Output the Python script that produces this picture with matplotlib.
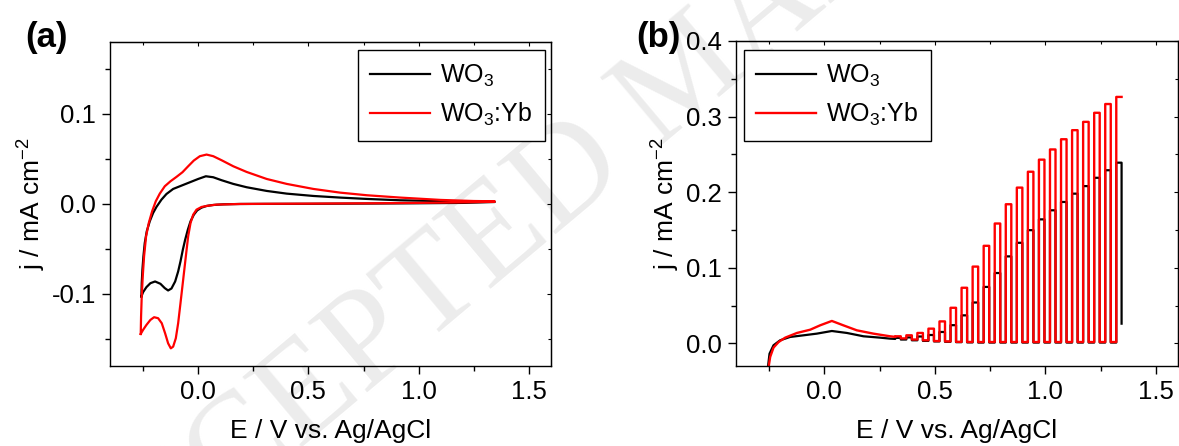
import matplotlib
matplotlib.use('Agg')
import matplotlib.pyplot as plt
from matplotlib.ticker import MultipleLocator, FormatStrFormatter

plt.rcParams['font.family'] = ['Liberation Sans', 'DejaVu Sans']
plt.rcParams['mathtext.fontset'] = 'custom'
plt.rcParams['mathtext.rm'] = 'Liberation Sans'
plt.rcParams['mathtext.it'] = 'Liberation Sans:italic'
plt.rcParams['axes.unicode_minus'] = False

# ---- (a) cyclic voltammograms, forward and reverse branches ----
E_wo3_fwd = [-0.2576, -0.2561, -0.2530, -0.2485, -0.2424, -0.2333, -0.2197, -0.2045, -0.1894, -0.1667,
             -0.1439, -0.1136, -0.0758, -0.0379, 0.0, 0.0348, 0.0682, 0.1061, 0.1591, 0.2197,
             0.3106, 0.4015, 0.5227, 0.6439, 0.7652, 0.9167, 1.10, 1.25, 1.345]
j_wo3_fwd = [-0.1028, -0.0880, -0.0731, -0.0583, -0.0434, -0.0304, -0.0193, -0.0100, -0.0033, 0.0048,
             0.0111, 0.0167, 0.0204, 0.0241, 0.0278, 0.0308, 0.0297, 0.0264, 0.0223, 0.0186,
             0.0145, 0.0115, 0.0089, 0.0071, 0.0056, 0.0041, 0.0032, 0.0027, 0.0025]
E_wo3_rev = [1.345, 1.2, 1.0, 0.8, 0.5, 0.3, 0.189, 0.114, 0.068, 0.038, 0.015, -0.0045, -0.0197,
             -0.0348, -0.047, -0.0591, -0.0697, -0.0803, -0.0909, -0.1045, -0.1212, -0.1364, -0.1515,
             -0.1712, -0.1955, -0.2167, -0.2348, -0.25, -0.2576]
j_wo3_rev = [0.0022, 0.0012, 0.0008, 0.0005, 0.0002, 0.0001, 0.0, -0.0004, -0.0011, -0.0022, -0.0041,
             -0.0071, -0.0119, -0.0193, -0.0286, -0.0397, -0.0509, -0.0638, -0.0750, -0.0861, -0.0939,
             -0.0961, -0.0935, -0.0887, -0.0861, -0.0880, -0.0924, -0.0980, -0.1028]

E_yb_fwd = [-0.2606, -0.2591, -0.2561, -0.2515, -0.2455, -0.2364, -0.2242, -0.2091, -0.1924, -0.1742,
            -0.1515, -0.1258, -0.0985, -0.0712, -0.0455, -0.0197, 0.0076, 0.0379, 0.0682, 0.1061,
            0.1591, 0.2197, 0.3106, 0.4015, 0.5227, 0.6439, 0.7652, 0.9167, 1.10, 1.25, 1.345]
j_yb_fwd = [-0.1444, -0.1251, -0.1028, -0.0805, -0.0583, -0.0360, -0.0212, -0.0082, 0.0030, 0.0115,
            0.0197, 0.0252, 0.0301, 0.0353, 0.0419, 0.0483, 0.0531, 0.0549, 0.0531, 0.0486,
            0.0419, 0.0356, 0.0278, 0.0223, 0.0167, 0.0126, 0.0097, 0.0071, 0.0045, 0.0033, 0.0030]
E_yb_rev = [1.345, 1.2, 1.0, 0.8, 0.5, 0.3, 0.189, 0.1288, 0.0833, 0.0455, 0.0152, -0.0076, -0.0227,
            -0.0348, -0.0455, -0.0561, -0.0682, -0.0803, -0.0909, -0.1015, -0.1136, -0.1242, -0.1364,
            -0.1500, -0.1652, -0.1818, -0.2000, -0.2167, -0.2348, -0.25, -0.2606]
j_yb_rev = [0.0025, 0.0018, 0.0012, 0.0008, 0.0004, 0.0002, 0.0, -0.0004, -0.0007, -0.0019, -0.0033,
            -0.0063, -0.0119, -0.0212, -0.0360, -0.0583, -0.0843, -0.1102, -0.1325, -0.1492, -0.1585,
            -0.1604, -0.1548, -0.1437, -0.1325, -0.1269, -0.1258, -0.1288, -0.1344, -0.1399, -0.1444]

# ---- (b) LSV under chopped light ----
# continuous part before chopping becomes visible
E_b_wo3 = [-0.255, -0.248, -0.23, -0.2, -0.155, -0.094, -0.034, 0.034, 0.102, 0.177, 0.252, 0.297]
j_b_wo3 = [-0.031, -0.0137, -0.0026, 0.004, 0.0084, 0.0106, 0.0128, 0.0163, 0.0137, 0.0093, 0.0075, 0.0062]
E_b_yb = [-0.252, -0.245, -0.23, -0.207, -0.177, -0.124, -0.064, -0.019, 0.034, 0.086, 0.147, 0.222, 0.297]
j_b_yb = [-0.031, -0.018, -0.0057, 0.0017, 0.0075, 0.0137, 0.018, 0.0238, 0.0296, 0.0238, 0.0172, 0.0128, 0.0093]

# light on / off potentials
E_on = [0.321, 0.371, 0.421, 0.471, 0.521, 0.571, 0.621, 0.671, 0.721, 0.771, 0.821,
        0.871, 0.921, 0.971, 1.021, 1.071, 1.121, 1.171, 1.221, 1.271, 1.321]
E_off = [0.346, 0.396, 0.446, 0.496, 0.546, 0.596, 0.646, 0.696, 0.746, 0.796, 0.846,
         0.896, 0.946, 0.996, 1.046, 1.096, 1.146, 1.196, 1.246, 1.296, 1.345]
# photocurrent (light on) and dark current before each pulse
top_yb = [0.0093, 0.0106, 0.0137, 0.0194, 0.029, 0.047, 0.0735, 0.1015, 0.129, 0.1585, 0.184,
          0.206, 0.227, 0.243, 0.2565, 0.270, 0.282, 0.293, 0.305, 0.3166, 0.326]
dark_yb = [0.0085, 0.0065, 0.005, 0.004, 0.003, 0.0025, 0.002, 0.0018, 0.0017, 0.0017, 0.0017,
           0.0017, 0.0017, 0.0017, 0.0017, 0.0017, 0.0017, 0.0017, 0.0017, 0.0017, 0.0017]
top_wo3 = [0.0072, 0.0078, 0.009, 0.011, 0.015, 0.024, 0.037, 0.054, 0.0746, 0.093, 0.115,
           0.133, 0.1497, 0.164, 0.176, 0.187, 0.198, 0.208, 0.219, 0.229, 0.239]
dark_wo3 = [0.0058, 0.005, 0.004, 0.0032, 0.0025, 0.002, 0.0015, 0.0012, 0.001, 0.001, 0.001,
            0.001, 0.001, 0.001, 0.001, 0.001, 0.001, 0.001, 0.001, 0.001, 0.001]
end_wo3 = 0.026   # black trace ends halfway down the last fall


def chopped(E0, j0, top, dark, last_fall=None):
    xs, ys = list(E0), list(j0)
    for k in range(len(E_on)):
        xs += [E_on[k], E_on[k], E_off[k]]
        ys += [dark[k], top[k], top[k]]
        if k < len(E_on) - 1:
            xs += [E_off[k]]
            ys += [dark[k + 1]]
    if last_fall is not None:
        xs.append(E_off[-1])
        ys.append(last_fall)
    return xs, ys


fig = plt.figure(figsize=(11.79, 4.46), dpi=100)
ax1 = fig.add_axes([0.0933, 0.1794, 0.374, 0.7265])
ax2 = fig.add_axes([0.6242, 0.1794, 0.3749, 0.7287])

# faint watermark behind everything
fig.text(0.068, -0.42, 'ACCEPTED MANUSCRIPT', family='Liberation Serif', fontsize=100,
         color='#ececec', rotation=40, rotation_mode='anchor', ha='left', va='baseline', zorder=-10)

ax1.plot(E_wo3_fwd + E_wo3_rev, j_wo3_fwd + j_wo3_rev, color='black', lw=1.6, label='WO$_3$')
ax1.plot(E_yb_fwd + E_yb_rev, j_yb_fwd + j_yb_rev, color='red', lw=1.6, label='WO$_3$:Yb')
ax1.set_xlim(-0.4, 1.6)
ax1.set_ylim(-0.18, 0.18)

xb, yb = chopped(E_b_wo3, j_b_wo3, top_wo3, dark_wo3, last_fall=end_wo3)
ax2.plot(xb, yb, color='black', lw=1.6, label='WO$_3$')
xr, yr = chopped(E_b_yb, j_b_yb, top_yb, dark_yb)
ax2.plot(xr, yr, color='red', lw=1.7, label='WO$_3$:Yb')
ax2.set_xlim(-0.4, 1.6)
ax2.set_ylim(-0.03, 0.4)

for ax in (ax1, ax2):
    ax.set_facecolor('none')
    ax.xaxis.set_major_locator(MultipleLocator(0.5))
    ax.xaxis.set_minor_locator(MultipleLocator(0.25))
    ax.yaxis.set_major_locator(MultipleLocator(0.1))
    ax.yaxis.set_minor_locator(MultipleLocator(0.05))
    ax.xaxis.set_major_formatter(FormatStrFormatter('%.1f'))
    ax.yaxis.set_major_formatter(FormatStrFormatter('%.1f'))
    ax.tick_params(which='both', direction='out', labelsize=18.5, width=1.0)
    ax.tick_params(which='major', length=6, pad=4)
    ax.tick_params(which='minor', length=3.5)
    for s in ax.spines.values():
        s.set_linewidth(1.0)
    # short inward ticks on top and right, no labels
    top = ax.secondary_xaxis('top')
    top.xaxis.set_major_locator(MultipleLocator(0.5))
    top.xaxis.set_minor_locator(MultipleLocator(0.25))
    top.tick_params(which='both', direction='in', labeltop=False, width=0.8)
    top.tick_params(which='major', length=3)
    top.tick_params(which='minor', length=2)
    right = ax.secondary_yaxis('right')
    right.yaxis.set_major_locator(MultipleLocator(0.1))
    right.yaxis.set_minor_locator(MultipleLocator(0.05))
    right.tick_params(which='both', direction='in', labelright=False, width=0.8)
    right.tick_params(which='major', length=3)
    right.tick_params(which='minor', length=2)
    ax.set_xlabel('E / V vs. Ag/AgCl', fontsize=19, labelpad=11)
    ax.set_ylabel('j / mA cm$^{-2}$', fontsize=19, labelpad=3)

ax1.legend(loc='upper right', bbox_to_anchor=(1 - 6 / 441, 1 - 8 / 324), borderaxespad=0,
           fontsize=18, fancybox=False, edgecolor='black', framealpha=1, handlelength=2.4,
           handletextpad=0.4, labelspacing=0.5, borderpad=0.5).get_frame().set_linewidth(1.0)
ax2.legend(loc='upper left', bbox_to_anchor=(7.6 / 442, 1 - 9 / 325), borderaxespad=0,
           fontsize=18, fancybox=False, edgecolor='black', framealpha=1, handlelength=2.4,
           handletextpad=0.4, labelspacing=0.5, borderpad=0.5).get_frame().set_linewidth(1.0)

fig.text(0.021, 0.915, '(a)', fontsize=25, fontweight='bold', va='center')
fig.text(0.540, 0.915, '(b)', fontsize=25, fontweight='bold', va='center')

fig.savefig('out.png', dpi=100)
